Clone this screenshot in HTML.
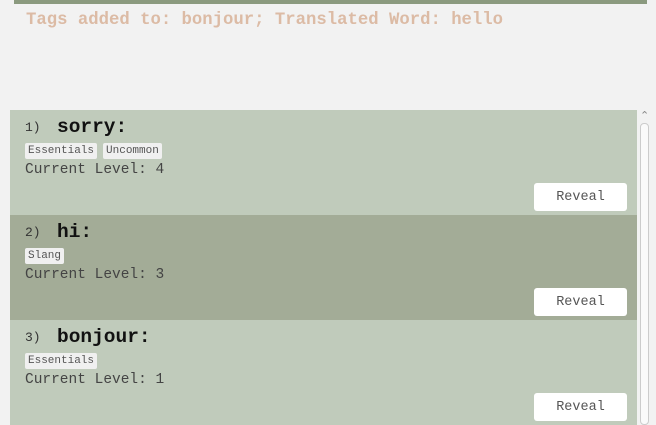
<!DOCTYPE html>
<html><head><style>
body{margin:0;width:656px;height:425px;overflow:hidden;background:#f2f2f2;position:relative;font-family:"Liberation Mono",monospace;}
.bar{position:absolute;left:14px;top:0;width:633px;height:4px;background:#8b9a7f;}
.msg{position:absolute;left:26px;top:11px;font-size:17.3px;font-weight:bold;color:#dcbba5;white-space:nowrap;}
.row{position:absolute;left:10px;width:627px;height:105px;}
.a{background:#c0cbbb}.b{background:#a3ac97}
.num{position:absolute;left:15px;top:10px;font-size:13px;color:#333;}
.w{position:absolute;left:47px;top:6px;font-size:19.5px;font-weight:bold;color:#111;}
.tags{position:absolute;left:15px;top:33px;height:16px;}
.tag{display:inline-block;height:16px;line-height:16px;padding:0 3px;margin-right:6px;background:#f0f0f0;border-radius:2px;font-size:11px;color:#555;vertical-align:top;}
.lvl{position:absolute;left:15px;top:52px;font-size:14.5px;color:#444;}
.btn{position:absolute;left:524px;top:73px;width:93px;height:28px;background:#fff;border-radius:3px;text-align:center;line-height:30px;font-size:13.5px;color:#555;}
.sb{position:absolute;left:638px;top:110px;width:14px;height:315px;background:#f2f2f2;}
.th{position:absolute;left:640px;top:123px;width:9px;height:302px;background:#fafafa;border:1px solid #ccc;border-radius:4px;box-sizing:border-box;}
.ar{position:absolute;left:640px;top:109px;font-size:11px;color:#888;font-family:"DejaVu Sans",sans-serif;}
</style></head><body>
<div class="bar"></div>
<div class="msg">Tags added to: bonjour; Translated Word: hello</div>
<div class="row a" style="top:110px"><span class="num">1)</span><span class="w">sorry:</span><div class="tags"><span class="tag">Essentials</span><span class="tag">Uncommon</span></div><div class="lvl">Current Level: 4</div><div class="btn">Reveal</div></div>
<div class="row b" style="top:215px"><span class="num">2)</span><span class="w">hi:</span><div class="tags"><span class="tag">Slang</span></div><div class="lvl">Current Level: 3</div><div class="btn">Reveal</div></div>
<div class="row a" style="top:320px"><span class="num">3)</span><span class="w">bonjour:</span><div class="tags"><span class="tag">Essentials</span></div><div class="lvl">Current Level: 1</div><div class="btn">Reveal</div></div>
<div class="sb"></div><div class="ar">&#8963;</div><div class="th"></div>
</body></html>
